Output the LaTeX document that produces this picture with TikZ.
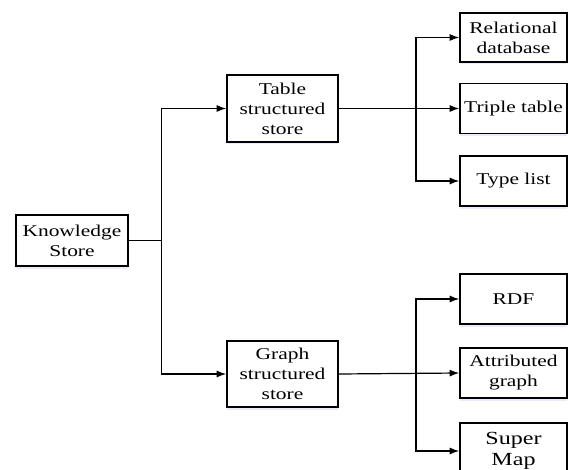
\documentclass[tikz,border=0pt]{standalone}
\usepackage{fontspec}
\setmainfont[FakeStretch=1.3]{Liberation Serif}
\usetikzlibrary{arrows.meta,shadows}
\begin{document}
\begin{tikzpicture}[x=1pt,y=-1pt,
  box/.style={draw, line width=1.6pt, fill=white, align=center, inner sep=0pt,
    font=\fontsize{16.5}{20}\selectfont,
    drop shadow={shadow xshift=0pt, shadow yshift=-2.5pt, fill=blue!25, opacity=0.35}},
  conn/.style={line width=1.2pt, -{Latex[length=9.5pt,width=7pt]}},
  line/.style={line width=1.2pt}]
\useasboundingbox (0,0) rectangle (569,470);
\node[box, minimum width=112pt, minimum height=51pt] (ks) at (72,240.5) {Knowledge\\Store};
\node[box, minimum width=111pt, minimum height=67pt] (tss) at (282.5,108.5) {Table\\structured\\store};
\node[box, minimum width=111pt, minimum height=66pt] (gss) at (282.5,374) {Graph\\structured\\store};
\node[box, minimum width=107pt, minimum height=49pt] (rel) at (513.5,37.5) {Relational\\database};
\node[box, minimum width=107pt, minimum height=50pt] (tri) at (513.5,108.5) {Triple table};
\node[box, minimum width=107pt, minimum height=50pt] (typ) at (513.5,181) {Type list};
\node[box, minimum width=107pt, minimum height=50pt] (rdf) at (513.5,299) {RDF};
\node[box, minimum width=107pt, minimum height=50pt] (att) at (513.5,373) {Attributed\\graph};
\node[box, minimum width=107pt, minimum height=56pt, font=\fontsize{18.5}{20.5}\selectfont] (sup) at (513.5,451) {Super\\Map};
\draw[line] (ks.east) -- ++(33,0) coordinate (j1);
\draw[conn] (j1) |- (tss.west);
\draw[conn] (j1) |- (gss.west);
\draw[conn] (tss.east) -- (tri.west);
\coordinate (j2) at (416,108.5);
\draw[conn] (j2) |- (rel.west);
\draw[conn] (j2) |- (typ.west);
\draw[conn] (gss.east) -- (att.west);
\coordinate (j3) at (416,373);
\draw[conn] (j3) |- (rdf.west);
\draw[conn] (j3) |- (sup.west);
\end{tikzpicture}
\end{document}
